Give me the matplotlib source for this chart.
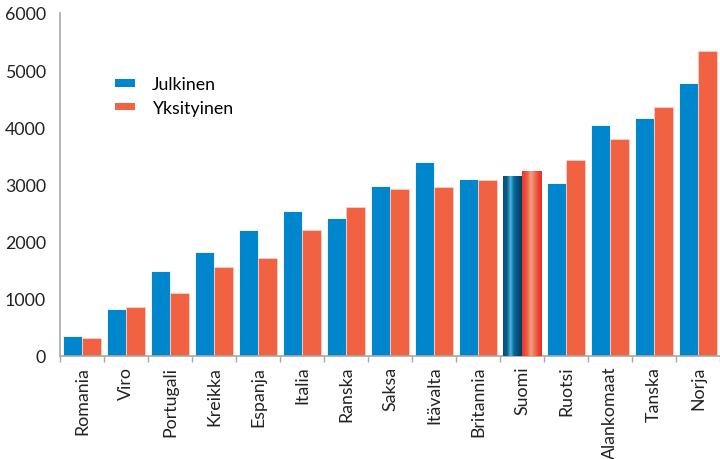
import numpy as np
import matplotlib
matplotlib.use("Agg")
import matplotlib.pyplot as plt
from matplotlib.colors import LinearSegmentedColormap
from matplotlib.patches import Patch

plt.rcParams['font.family'] = ['Lato', 'DejaVu Sans']

countries = ["Romania", "Viro", "Portugali", "Kreikka", "Espanja", "Italia", "Ranska",
             "Saksa", "Itävalta", "Britannia", "Suomi", "Ruotsi", "Alankomaat", "Tanska", "Norja"]
julkinen = [350, 830, 1490, 1820, 2200, 2540, 2410, 2980, 3390, 3100, 3150, 3030, 4040, 4165, 4775]
yksityinen = [315, 860, 1100, 1560, 1720, 2200, 2600, 2930, 2960, 3080, 3230, 3420, 3800, 4355, 5330]
highlight = "Suomi"
yticks = [0, 1000, 2000, 3000, 4000, 5000, 6000]

BLUE = "#0086cd"
ORANGE = "#f06242"
AXIS = "#a8a8a8"
FS = 12.8

fig = plt.figure(figsize=(7.2, 4.6), dpi=100)
ax = fig.add_axes([60/720, 103/460, 660/720, 343/460])

x = np.arange(len(countries))
w = 0.44
b1 = ax.bar(x - w/2, julkinen, w, color=BLUE, edgecolor="#ffffff", linewidth=0.6, zorder=2)
b2 = ax.bar(x + w/2, yksityinen, w, color=ORANGE, edgecolor="#fbd0c4", linewidth=0.6, zorder=2)

# cylindrical shading for the highlighted country
blue_grad = LinearSegmentedColormap.from_list("bg", [
    (0.0, "#06507a"), (0.2, "#0a5c88"), (0.38, "#4fb4de"), (0.45, "#2a9ac8"),
    (0.55, "#0a6a9a"), (0.8, "#05496f"), (1.0, "#033a5a")])
red_grad = LinearSegmentedColormap.from_list("rg", [
    (0.0, "#e8382a"), (0.25, "#ee5a40"), (0.45, "#f6a084"), (0.6, "#f07a5c"),
    (0.85, "#e8402e"), (1.0, "#e43526")])
i = countries.index(highlight)
grad = np.linspace(0, 1, 256).reshape(1, -1)
for bars, cmap in ((b1, blue_grad), (b2, red_grad)):
    p = bars[i]
    x0, y0 = p.get_x(), p.get_y()
    im = ax.imshow(grad, cmap=cmap, aspect="auto",
                   extent=[x0, x0 + p.get_width(), y0, y0 + p.get_height()], zorder=3)
    im.set_clip_path(p)
    p.set_facecolor("none")

ax.set_xlim(-0.5, len(countries) - 0.5)
ax.set_ylim(0, 6000)
ax.set_yticks(yticks)
ax.set_yticklabels([str(v) for v in yticks], fontsize=FS, color="#222222")
ax.tick_params(axis="y", length=0, pad=10)

ax.set_xticks(x)
ax.set_xticklabels(countries, rotation=90, fontsize=FS, color="#222222")
ax.tick_params(axis="x", which="major", length=0, pad=7)
ax.set_xticks(np.arange(-0.5, len(countries), 1), minor=True)
ax.tick_params(axis="x", which="minor", length=4, color=AXIS, width=1)

for s in ("top", "right"):
    ax.spines[s].set_visible(False)
for s in ("left", "bottom"):
    ax.spines[s].set_color(AXIS)
    ax.spines[s].set_linewidth(1.2)

handles = [Patch(facecolor=BLUE, edgecolor="none", label="Julkinen"),
           Patch(facecolor=ORANGE, edgecolor="none", label="Yksityinen")]
ax.legend(handles=handles, loc="upper left", bbox_to_anchor=(0.083, 0.815), frameon=False,
          fontsize=FS, handlelength=1.13, handleheight=0.3, labelspacing=0.42,
          handletextpad=0.95, borderaxespad=0, borderpad=0)

fig.savefig("out.png", dpi=100)
